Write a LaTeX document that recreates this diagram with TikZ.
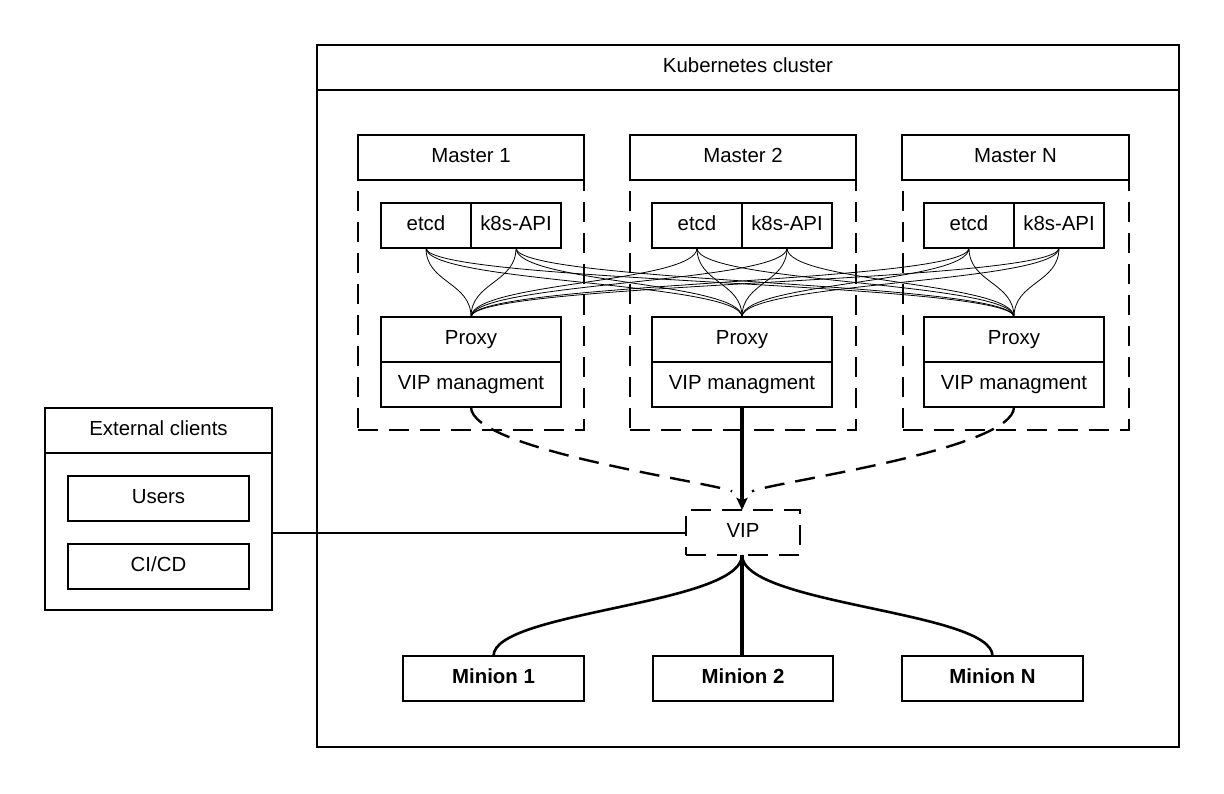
\documentclass[tikz,border=0pt]{standalone}
\usepackage{fontspec}
\setmainfont{Liberation Sans}
\usetikzlibrary{arrows.meta}
\begin{document}
\begin{tikzpicture}[x=1pt,y=-1pt,
  font=\fontsize{20.4}{24}\selectfont,
  box/.style={draw,line width=1.6pt,rectangle,inner sep=0pt,outer sep=0pt,fill=white,text height=14.6pt,text depth=4pt},
  dbox/.style={draw,line width=2pt,rectangle,inner sep=0pt,outer sep=0pt,dash pattern=on 20pt off 11pt,text height=14.6pt,text depth=4pt},
  mbox/.style={box,line width=2.3pt,font=\fontsize{20.4}{24}\selectfont\bfseries},
  thinline/.style={line width=0.8pt},
  dashcurve/.style={line width=2.4pt,dash pattern=on 20pt off 11pt},
  thickline/.style={line width=2.6pt},
  vline/.style={line width=3.2pt},
  link/.style={line width=2pt}
]
\useasboundingbox (0,0) rectangle (1224,793);
% cluster
\node[box,fill=none,minimum width=862,minimum height=702] (cluster) at (748,396) {};
\node[box,minimum width=862,minimum height=45] (clusterhead) at (748,67.5) {Kubernetes cluster};
% masters
\foreach \i/\cx in {1/471,2/743,3/1015.5}{
  \node[dbox,minimum width=226,minimum height=250] (mb\i) at (\cx,305) {};
}
\node[box,minimum width=226,minimum height=45] (mh1) at (471,157.5) {Master 1};
\node[box,minimum width=226,minimum height=45] (mh2) at (743,157.5) {Master 2};
\node[box,minimum width=227,minimum height=45] (mh3) at (1015.5,157.5) {Master N};
% etcd / k8s
\node[box,minimum width=90,minimum height=45] (e1) at (426,225.5) {etcd};
\node[box,minimum width=90,minimum height=45] (k1) at (516,225.5) {k8s-API};
\node[box,minimum width=90,minimum height=45] (e2) at (697,225.5) {etcd};
\node[box,minimum width=90,minimum height=45] (k2) at (787,225.5) {k8s-API};
\node[box,minimum width=90,minimum height=45] (e3) at (969,225.5) {etcd};
\node[box,minimum width=90,minimum height=45] (k3) at (1059,225.5) {k8s-API};
% proxies
\node[box,minimum width=180,minimum height=45] (p1) at (471,339.5) {Proxy};
\node[box,minimum width=180,minimum height=45] (v1) at (471,384.5) {VIP managment};
\node[box,minimum width=180,minimum height=45] (p2) at (742,339.5) {Proxy};
\node[box,minimum width=180,minimum height=45] (v2) at (742,384.5) {VIP managment};
\node[box,minimum width=180,minimum height=45] (p3) at (1014,339.5) {Proxy};
\node[box,minimum width=180,minimum height=45] (v3) at (1014,384.5) {VIP managment};
% thin curves
\foreach \s in {e1,k1,e2,k2,e3,k3}{
  \foreach \t in {p1,p2,p3}{
    \draw[thinline] (\s.south) .. controls +(0,35) and +(0,-35) .. (\t.north);
  }
}
% VIP
\node[dbox,fill=white,minimum width=114,minimum height=45] (vip) at (743,532.5) {VIP};
\coordinate (vt) at (vip.north -| v2.south);
\coordinate (vmeet) at ([yshift=14pt]vt);
\draw[vline,-{Stealth[length=12pt,width=11pt,inset=2pt]}] (v2.south) -- (vt);
\draw[dashcurve,shorten >=11pt] (v1.south) .. controls +(0,43) and +(-30,-14) .. (vmeet);
\draw[dashcurve,shorten >=11pt] (v3.south) .. controls +(0,43) and +(30,-14) .. (vmeet);
% minions
\node[mbox,minimum width=181,minimum height=45] (m1) at (493.5,678.5) {Minion 1};
\node[mbox,minimum width=180,minimum height=45] (m2) at (743,678.5) {Minion 2};
\node[mbox,minimum width=181,minimum height=45] (m3) at (992.5,678.5) {Minion N};
\coordinate (vb) at (vip.south -| v2.south);
\draw[thickline] (vb) .. controls +(0,50) and +(0,-45) .. (m1.north);
\draw[vline] (vb) -- (vb |- m2.north);
\draw[thickline] (vb) .. controls +(0,50) and +(0,-45) .. (m3.north);
% external clients
\node[box,fill=none,minimum width=227,minimum height=202] (ext) at (158.5,509) {};
\node[box,minimum width=227,minimum height=45] (exthead) at (158.5,430.5) {External clients};
\node[box,minimum width=181,minimum height=45] (users) at (158.5,498.5) {Users};
\node[box,minimum width=181,minimum height=45] (cicd) at (158.5,566.5) {CI/CD};
\draw[link] (ext.east |- vip.west) -- (vip.west);
\end{tikzpicture}
\end{document}
